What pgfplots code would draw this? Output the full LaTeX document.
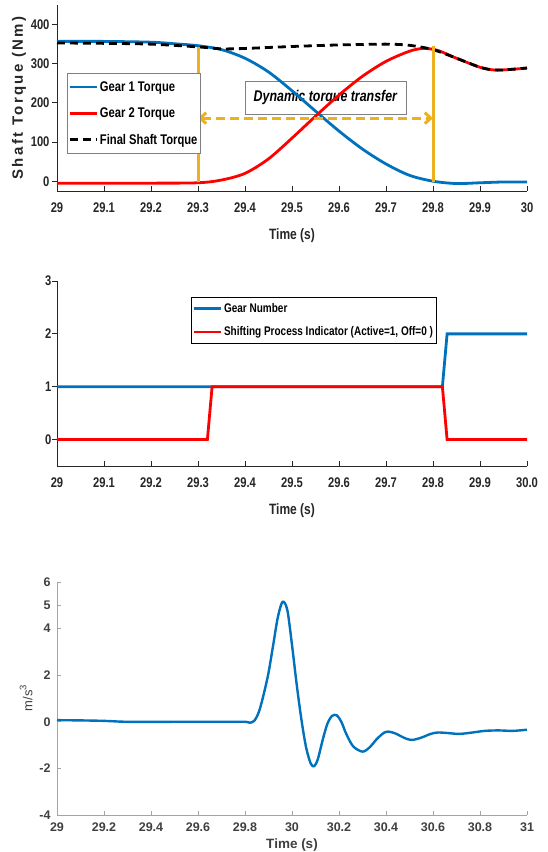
\documentclass[border=0pt]{standalone}
\usepackage{pgfplots}
\pgfplotsset{compat=1.18}
\usepackage{fontspec}
\setmainfont{Liberation Sans}
\newfontfamily\cond[FakeStretch=0.8]{Liberation Sans}
\newfontfamily\widef[LetterSpace=16]{Liberation Sans}
\usetikzlibrary{arrows.meta}
\definecolor{mblue}{RGB}{0,114,189}
\definecolor{mred}{RGB}{255,0,0}
\definecolor{morange}{RGB}{237,177,32}
\definecolor{tgray}{RGB}{38,38,38}
\definecolor{lgray}{RGB}{165,165,165}
\definecolor{dgray}{RGB}{64,64,64}
\begin{document}
\begin{tikzpicture}[x=1pt,y=1pt]
%================ Panel 1 =================
\begin{axis}[
  at={(57pt,661pt)}, anchor=south west,
  width=470pt, height=186pt, scale only axis,
  xmin=29, xmax=30, ymin=-25, ymax=450,
  axis x line*=bottom, axis y line*=left,
  axis line style={draw=tgray, line width=0.8pt},
  tick align=inside, major tick length=5pt,
  every tick/.style={tgray, line width=0.8pt},
  y tick style={xshift=-5pt},
  xtick={29,29.1,29.2,29.3,29.4,29.5,29.6,29.7,29.8,29.9,30},
  xticklabels={29,29.1,29.2,29.3,29.4,29.5,29.6,29.7,29.8,29.9,30},
  ytick={0,100,200,300,400},
  yticklabels={0,100,200,300,400},
  ticklabel style={font=\cond\bfseries\fontsize{14}{14}\selectfont, text=tgray},
  xticklabel style={yshift=-8pt},
  yticklabel style={xshift=-4pt},
  legend style={at={(axis description cs:0.021,0.634)}, anchor=north west,
    draw=gray, line width=0.6pt, fill=white,
    font=\cond\bfseries\fontsize{14}{14}\selectfont, text=black,
    inner xsep=1pt, inner ysep=6pt, row sep=11pt},
  legend cell align=left,
  legend image code/.code={\draw[#1] (0pt,0pt) -- (27pt,0pt);},
]
\node[draw=gray, line width=0.6pt, minimum width=161pt, minimum height=33pt,
  font=\cond\bfseries\itshape\fontsize{15.5}{15.5}\selectfont]
  at (axis cs:29.571,213) {Dynamic torque transfer};
\addplot[mblue, line width=2.8pt, smooth] coordinates {
 (29.0,357) (29.1,357) (29.2,355) (29.25,351) (29.3,346) (29.35,336)
 (29.4,314) (29.45,279) (29.5,231) (29.55,179) (29.6,128) (29.65,82)
 (29.7,44) (29.75,15) (29.8,0) (29.85,-6) (29.9,-4) (29.95,-2) (30.0,-2)};
\addlegendentry{Gear 1 Torque}
\addplot[mred, line width=2.8pt, smooth] coordinates {
 (29.0,-5) (29.2,-5) (29.3,-4) (29.35,3) (29.4,20) (29.45,57) (29.5,110)
 (29.55,166) (29.6,220) (29.65,268) (29.7,306) (29.75,332) (29.78,339)
 (29.81,334) (29.85,314) (29.9,291) (29.93,284) (29.96,285) (30.0,289)};
\addlegendentry{Gear 2 Torque}
\addplot[black, line width=2.8pt, dash pattern=on 8pt off 5pt, smooth] coordinates {
 (29.0,353) (29.1,352) (29.2,350) (29.3,343) (29.35,338) (29.4,339)
 (29.5,344) (29.6,348) (29.7,350) (29.75,347) (29.8,336) (29.85,314)
 (29.9,291) (29.93,284) (29.96,285) (30.0,289)};
\addlegendentry{Final Shaft Torque}
\addplot[morange, line width=3pt, forget plot] coordinates {(29.3,-3) (29.3,343)};
\addplot[morange, line width=3pt, forget plot] coordinates {(29.8,-3) (29.8,344)};
\draw[morange, line width=3pt, dash pattern=on 9pt off 5pt,
  {Straight Barb[length=6pt,width=11pt]}-{Straight Barb[length=6pt,width=11pt]}]
  (axis cs:29.3,161) -- (axis cs:29.8,161);
\end{axis}
\node[rotate=90, font=\widef\bfseries\fontsize{15}{15}\selectfont, text=tgray] at (19pt,754pt) {Shaft Torque (Nm)};
\node[font=\cond\bfseries\fontsize{15}{15}\selectfont, text=tgray] at (292pt,616pt) {Time (s)};
%================ Panel 2 =================
\begin{axis}[
  at={(57pt,386pt)}, anchor=south west,
  width=470pt, height=185pt, scale only axis,
  xmin=29, xmax=30, ymin=-0.5, ymax=3,
  axis x line*=bottom, axis y line*=left,
  axis line style={draw=tgray, line width=0.8pt},
  tick align=inside, major tick length=5pt,
  every tick/.style={tgray, line width=0.8pt},
  y tick style={xshift=-5pt},
  xtick={29,29.1,29.2,29.3,29.4,29.5,29.6,29.7,29.8,29.9,30},
  xticklabels={29,29.1,29.2,29.3,29.4,29.5,29.6,29.7,29.8,29.9,30.0},
  ytick={0,1,2,3},
  yticklabels={0,1,2,3},
  ticklabel style={font=\cond\bfseries\fontsize{14}{14}\selectfont, text=tgray},
  xticklabel style={yshift=-8pt},
  yticklabel style={xshift=-2pt},
  legend style={at={(axis description cs:0.285,0.914)}, anchor=north west,
    draw=black, line width=0.6pt, fill=white,
    font=\cond\bfseries\fontsize{12.5}{12.5}\selectfont, text=black,
    inner xsep=1pt, inner ysep=4pt, row sep=9pt},
  legend cell align=left,
  legend image code/.code={\draw[#1] (0pt,0pt) -- (27pt,0pt);},
]
\addplot[mblue, line width=2.8pt] coordinates {(29,1) (29.82,1) (29.83,2) (30,2)};
\addlegendentry{Gear Number}
\addplot[mred, line width=2.8pt] coordinates {(29,0) (29.32,0) (29.33,1) (29.82,1) (29.83,0) (30,0)};
\addlegendentry{Shifting Process Indicator (Active=1, Off=0 )}
\end{axis}
\node[font=\cond\bfseries\fontsize{15}{15}\selectfont, text=tgray] at (292pt,341pt) {Time (s)};
%================ Panel 3 =================
\begin{axis}[
  at={(57pt,37pt)}, anchor=south west,
  width=470pt, height=233pt, scale only axis,
  xmin=29, xmax=31, ymin=-4, ymax=6,
  axis x line*=bottom, axis y line*=left,
  axis line style={draw=lgray, line width=0.8pt},
  tick align=inside, major tick length=4pt,
  every tick/.style={lgray, line width=0.8pt},
  xtick={29,29.2,29.4,29.6,29.8,30,30.2,30.4,30.6,30.8,31},
  xticklabels={29,29.2,29.4,29.6,29.8,30,30.2,30.4,30.6,30.8,31},
  ytick={-4,-2,0,2,4,5,6},
  yticklabels={-4,-2,0,2,4,5,6},
  ticklabel style={font=\bfseries\fontsize{12.5}{12.5}\selectfont, text=dgray},
  xticklabel style={yshift=-4pt},
  yticklabel style={xshift=-3pt},
]
\addplot[mblue, line width=2.4pt, smooth] coordinates {
 (29.0,0.07) (29.1,0.06) (29.2,0.04) (29.3,0.0) (29.5,0.0) (29.7,0.0) (29.8,0.0)
 (29.82,-0.04) (29.84,0.05) (29.86,0.45) (29.88,1.2) (29.9,2.1) (29.92,3.3)
 (29.94,4.5) (29.96,5.15) (29.98,4.8) (30.0,3.3) (30.02,1.6) (30.04,0.1)
 (30.06,-1.1) (30.08,-1.8) (30.095,-1.9) (30.11,-1.6) (30.13,-0.8) (30.15,-0.1)
 (30.17,0.25) (30.19,0.28) (30.21,0.0) (30.23,-0.5) (30.26,-1.05) (30.3,-1.28)
 (30.33,-1.1) (30.36,-0.75) (30.39,-0.48) (30.41,-0.42) (30.44,-0.5) (30.48,-0.7)
 (30.51,-0.78) (30.55,-0.68) (30.59,-0.52) (30.62,-0.46) (30.66,-0.48) (30.71,-0.52)
 (30.76,-0.47) (30.82,-0.39) (30.88,-0.37) (30.94,-0.39) (31.0,-0.34)};
\end{axis}
\node[rotate=90, font=\fontsize{13}{13}\selectfont, text=dgray] at (26pt,154pt) {m/s\raisebox{6pt}{\fontsize{9.5}{9.5}\selectfont 3}};
\node[font=\bfseries\fontsize{13.5}{13.5}\selectfont, text=dgray] at (292pt,7pt) {Time (s)};
\pgfresetboundingbox
\path[use as bounding box] (0pt,0pt) rectangle (547pt,852pt);
\end{tikzpicture}
\end{document}
